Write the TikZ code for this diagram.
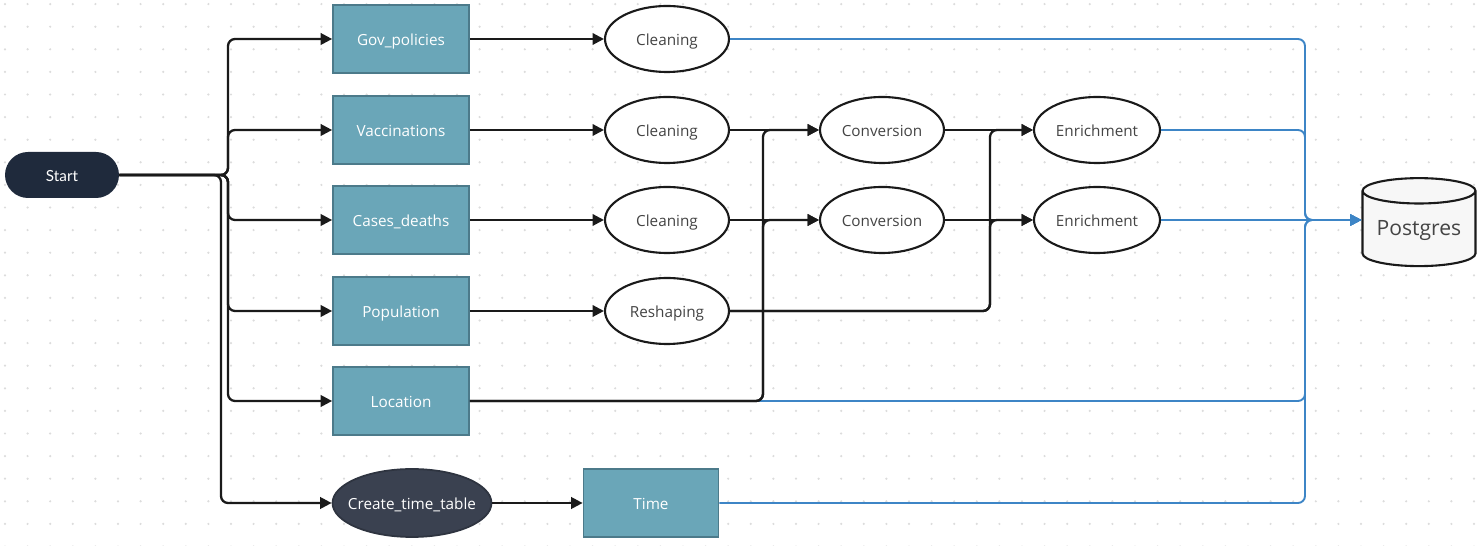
\documentclass[tikz,border=0pt]{standalone}
\usepackage{fontspec}
\setmainfont{Open Sans}
\newfontfamily\latofont{Lato}
\usetikzlibrary{arrows.meta,shapes.geometric,shapes.misc,positioning}
\definecolor{boxfill}{HTML}{6AA6B8}
\definecolor{boxedge}{HTML}{4C7A8A}
\definecolor{startfill}{HTML}{1F2A3C}
\definecolor{timefill}{HTML}{3A4150}
\definecolor{labelgrey}{HTML}{444444}
\definecolor{linedark}{HTML}{1A1A1A}
\definecolor{loadblue}{HTML}{3D85C6}
\definecolor{dotgrey}{HTML}{DCDCDC}
\definecolor{dbfill}{HTML}{F7F7F7}
\begin{document}
\begin{tikzpicture}[x=0.02cm,y=-0.02cm,
  every node/.style={text height=1.33ex,text depth=0pt},
  source/.style={rectangle,fill=boxfill,draw=boxedge,line width=1pt,minimum width=2.72cm,minimum height=1.36cm,inner sep=0pt,text=white,font=\fontsize{8.7}{10}\selectfont},
  task/.style={ellipse,draw=linedark,fill=white,line width=1.2pt,minimum width=2.48cm,minimum height=1.32cm,inner sep=0pt,text=labelgrey,font=\fontsize{8.7}{10}\selectfont},
  flow/.style={-{Triangle[length=6.5pt,width=6.5pt]},line width=1.3pt,draw=linedark,rounded corners=4pt},
  load/.style={flow,line width=1.1pt,draw=loadblue}]
\useasboundingbox (0,0) rectangle (1482,546);
% dotted background
\foreach \i in {0,...,65}
  \foreach \j in {0,...,24}
    \fill[dotgrey] (5+22.6*\i,4.1+22.6*\j) circle (0.7pt);
%% the nodes
\node[rectangle,rounded corners=0.46cm,fill=startfill,minimum width=2.28cm,minimum height=0.92cm,text=white,font=\latofont\fontsize{8.7}{10}\selectfont] (start) at (62,175) {Start};
\node[source] (gov) at (401,39) {Gov\_policies};
\node[source] (vacc) at (401,130) {Vaccinations};
\node[source] (cases) at (401,220) {Cases\_deaths};
\node[source] (pop) at (401,311) {Population};
\node[source] (loc) at (401,401) {Location};
\node[ellipse,fill=timefill,draw=timefill!80!black,line width=1pt,minimum width=3.18cm,minimum height=1.36cm,inner sep=0pt,text=white,font=\fontsize{8.7}{10}\selectfont] (mktime) at (412,503) {\makebox[0pt]{Create\_time\_table}};
\node[source,minimum width=2.7cm] (time) at (651,503) {Time};
\node[task] (clean1) at (667,39) {Cleaning};
\node[task] (clean2) at (667,130) {Cleaning};
\node[task] (clean3) at (667,220) {Cleaning};
\node[task] (reshape) at (667,311) {Reshaping};
\node[task] (conv1) at (882,130) {Conversion};
\node[task] (conv2) at (882,220) {Conversion};
\node[task,minimum width=2.52cm] (enrich1) at (1097,130) {Enrichment};
\node[task,minimum width=2.52cm] (enrich2) at (1097,220) {Enrichment};
\node[cylinder,shape border rotate=90,aspect=0.3,draw=linedark,fill=dbfill,line width=1.2pt,minimum width=2.26cm,minimum height=1.76cm,inner sep=0pt,text=labelgrey,font=\fontsize{12}{14}\selectfont] (pg) at (1419,229) {Postgres};
% bends of the connectors
\coordinate (trunk) at (228,0);
\coordinate (trunk2) at (221,0);
\coordinate (locbend) at (763,0);
\coordinate (popbend) at (990,0);
\coordinate (loadbend) at (1305,0);
\coordinate (pgin) at (pg.west |- enrich2.east);
%% loading into the database
\draw[load] (clean1.east) -- (loadbend |- clean1.east) |- (pgin);
\draw[load] (enrich1.east) -- (loadbend |- enrich1.east) |- (pgin);
\draw[load] (enrich2.east) -- (pgin);
\draw[load] (loc.east) -- (loadbend |- loc.east) |- (pgin);
\draw[load] (time.east) -- (loadbend |- time.east) |- (pgin);
%% start to the sources
\draw[flow] (start.east) -- (trunk |- start.east) |- (gov.west);
\draw[flow] (start.east) -- (trunk |- start.east) |- (vacc.west);
\draw[flow] (start.east) -- (trunk |- start.east) |- (cases.west);
\draw[flow] (start.east) -- (trunk |- start.east) |- (pop.west);
\draw[flow] (start.east) -- (trunk |- start.east) |- (loc.west);
\draw[flow] (start.east) -- (trunk2 |- start.east) |- (mktime.west);
\draw[flow] (mktime) -- (time);
%% sources to the tasks
\draw[flow] (gov) -- (clean1);
\draw[flow] (vacc) -- (clean2);
\draw[flow] (cases) -- (clean3);
\draw[flow] (pop) -- (reshape);
\draw[flow] (clean2) -- (conv1);
\draw[flow] (clean3) -- (conv2);
\draw[flow] (loc.east) -- (locbend |- loc.east) |- (conv1.west);
\draw[flow] (loc.east) -- (locbend |- loc.east) |- (conv2.west);
\draw[flow] (conv1) -- (enrich1);
\draw[flow] (conv2) -- (enrich2);
\draw[flow] (reshape.east) -- (popbend |- reshape.east) |- (enrich1.west);
\draw[flow] (reshape.east) -- (popbend |- reshape.east) |- (enrich2.west);
\end{tikzpicture}
\end{document}
